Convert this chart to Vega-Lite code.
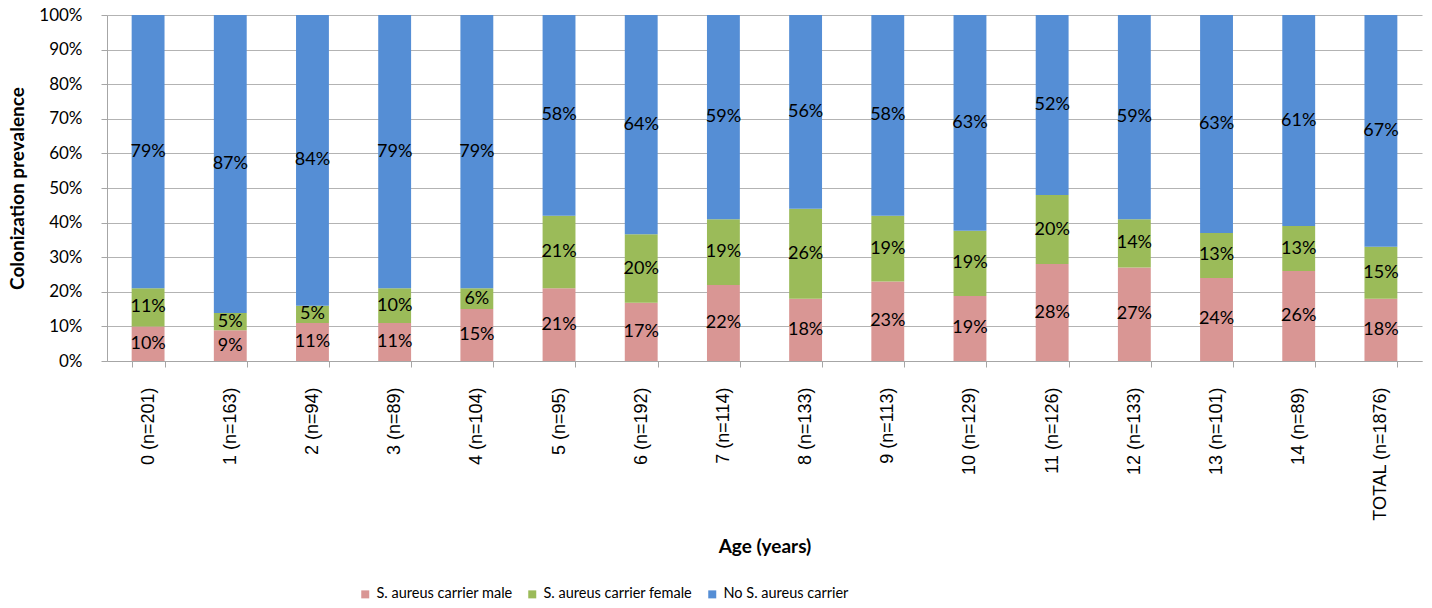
{
  "$schema": "https://vega.github.io/schema/vega-lite/v6.json",
  "width": 1315,
  "height": 346,
  "autosize": {"type": "none"},
  "padding": {"left": 107, "top": 15, "right": 10, "bottom": 247},
  "background": "white",
  "config": {
    "view": {"stroke": null},
    "font": "Lato"
  },
  "data": {
    "values": [
      {"age": "0 (n=201)", "series": "S. aureus carrier male", "k": 1, "v": 0.10},
      {"age": "0 (n=201)", "series": "S. aureus carrier female", "k": 2, "v": 0.11},
      {"age": "0 (n=201)", "series": "No S. aureus carrier", "k": 3, "v": 0.79},
      {"age": "1 (n=163)", "series": "S. aureus carrier male", "k": 1, "v": 0.09},
      {"age": "1 (n=163)", "series": "S. aureus carrier female", "k": 2, "v": 0.05},
      {"age": "1 (n=163)", "series": "No S. aureus carrier", "k": 3, "v": 0.87},
      {"age": "2 (n=94)", "series": "S. aureus carrier male", "k": 1, "v": 0.11},
      {"age": "2 (n=94)", "series": "S. aureus carrier female", "k": 2, "v": 0.05},
      {"age": "2 (n=94)", "series": "No S. aureus carrier", "k": 3, "v": 0.84},
      {"age": "3 (n=89)", "series": "S. aureus carrier male", "k": 1, "v": 0.11},
      {"age": "3 (n=89)", "series": "S. aureus carrier female", "k": 2, "v": 0.10},
      {"age": "3 (n=89)", "series": "No S. aureus carrier", "k": 3, "v": 0.79},
      {"age": "4 (n=104)", "series": "S. aureus carrier male", "k": 1, "v": 0.15},
      {"age": "4 (n=104)", "series": "S. aureus carrier female", "k": 2, "v": 0.06},
      {"age": "4 (n=104)", "series": "No S. aureus carrier", "k": 3, "v": 0.79},
      {"age": "5 (n=95)", "series": "S. aureus carrier male", "k": 1, "v": 0.21},
      {"age": "5 (n=95)", "series": "S. aureus carrier female", "k": 2, "v": 0.21},
      {"age": "5 (n=95)", "series": "No S. aureus carrier", "k": 3, "v": 0.58},
      {"age": "6 (n=192)", "series": "S. aureus carrier male", "k": 1, "v": 0.17},
      {"age": "6 (n=192)", "series": "S. aureus carrier female", "k": 2, "v": 0.20},
      {"age": "6 (n=192)", "series": "No S. aureus carrier", "k": 3, "v": 0.64},
      {"age": "7 (n=114)", "series": "S. aureus carrier male", "k": 1, "v": 0.22},
      {"age": "7 (n=114)", "series": "S. aureus carrier female", "k": 2, "v": 0.19},
      {"age": "7 (n=114)", "series": "No S. aureus carrier", "k": 3, "v": 0.59},
      {"age": "8 (n=133)", "series": "S. aureus carrier male", "k": 1, "v": 0.18},
      {"age": "8 (n=133)", "series": "S. aureus carrier female", "k": 2, "v": 0.26},
      {"age": "8 (n=133)", "series": "No S. aureus carrier", "k": 3, "v": 0.56},
      {"age": "9 (n=113)", "series": "S. aureus carrier male", "k": 1, "v": 0.23},
      {"age": "9 (n=113)", "series": "S. aureus carrier female", "k": 2, "v": 0.19},
      {"age": "9 (n=113)", "series": "No S. aureus carrier", "k": 3, "v": 0.58},
      {"age": "10 (n=129)", "series": "S. aureus carrier male", "k": 1, "v": 0.19},
      {"age": "10 (n=129)", "series": "S. aureus carrier female", "k": 2, "v": 0.19},
      {"age": "10 (n=129)", "series": "No S. aureus carrier", "k": 3, "v": 0.63},
      {"age": "11 (n=126)", "series": "S. aureus carrier male", "k": 1, "v": 0.28},
      {"age": "11 (n=126)", "series": "S. aureus carrier female", "k": 2, "v": 0.20},
      {"age": "11 (n=126)", "series": "No S. aureus carrier", "k": 3, "v": 0.52},
      {"age": "12 (n=133)", "series": "S. aureus carrier male", "k": 1, "v": 0.27},
      {"age": "12 (n=133)", "series": "S. aureus carrier female", "k": 2, "v": 0.14},
      {"age": "12 (n=133)", "series": "No S. aureus carrier", "k": 3, "v": 0.59},
      {"age": "13 (n=101)", "series": "S. aureus carrier male", "k": 1, "v": 0.24},
      {"age": "13 (n=101)", "series": "S. aureus carrier female", "k": 2, "v": 0.13},
      {"age": "13 (n=101)", "series": "No S. aureus carrier", "k": 3, "v": 0.63},
      {"age": "14 (n=89)", "series": "S. aureus carrier male", "k": 1, "v": 0.26},
      {"age": "14 (n=89)", "series": "S. aureus carrier female", "k": 2, "v": 0.13},
      {"age": "14 (n=89)", "series": "No S. aureus carrier", "k": 3, "v": 0.61},
      {"age": "TOTAL (n=1876)", "series": "S. aureus carrier male", "k": 1, "v": 0.18},
      {"age": "TOTAL (n=1876)", "series": "S. aureus carrier female", "k": 2, "v": 0.15},
      {"age": "TOTAL (n=1876)", "series": "No S. aureus carrier", "k": 3, "v": 0.67}
    ]
  },
  "transform": [
    {"stack": "v", "groupby": ["age"], "sort": [{"field": "k", "order": "ascending"}], "offset": "normalize", "as": ["y0", "y1"]},
    {"calculate": "(datum.y0 + datum.y1) / 2", "as": "ymid"}
  ],
  "encoding": {
    "x": {
      "field": "age",
      "type": "nominal",
      "sort": null,
      "scale": {"paddingInner": 0.6, "paddingOuter": 0.3},
      "axis": {
        "title": "Age (years)",
        "titleFont": "Lato",
        "titleFontSize": 19,
        "titleFontWeight": "bold",
        "titleColor": "black",
        "titleY": 185,
        "titleBaseline": "middle",
        "labelAngle": -90,
        "labelAlign": "right",
        "labelBaseline": "middle",
        "labelFont": "Liberation Sans",
        "labelFontSize": 18,
        "labelColor": "black",
        "labelPadding": 20,
        "labelLimit": 300,
        "tickBand": "extent",
        "tickSize": 6,
        "tickColor": "#A6A6A6",
        "domainColor": "#A6A6A6",
        "grid": false
      }
    }
  },
  "layer": [
    {
      "mark": {"type": "bar"},
      "encoding": {
        "y": {
          "field": "y0",
          "type": "quantitative",
          "scale": {"domain": [0, 1]},
          "axis": {
            "title": "Colonization prevalence",
            "titleFont": "Lato",
            "titleFontSize": 19,
            "titleFontWeight": "bold",
            "titleColor": "black",
            "titleX": -90,
            "titleBaseline": "middle",
            "format": ".0%",
            "values": [0, 0.1, 0.2, 0.3, 0.4, 0.5, 0.6, 0.7, 0.8, 0.9, 1],
            "labelOverlap": false,
            "labelFont": "Lato",
            "labelFontSize": 17,
            "labelColor": "black",
            "labelPadding": 19,
            "tickSize": 6,
            "tickColor": "#A6A6A6",
            "domainColor": "#A6A6A6",
            "gridColor": "#B3B3B3",
            "grid": true
          }
        },
        "y2": {"field": "y1"},
        "color": {
          "field": "series",
          "type": "nominal",
          "scale": {
            "domain": ["S. aureus carrier male", "S. aureus carrier female", "No S. aureus carrier"],
            "range": ["#D99694", "#9BBB59", "#558ED5"]
          },
          "legend": {
            "title": null,
            "orient": "none",
            "direction": "horizontal",
            "legendX": 251,
            "legendY": 572,
            "symbolType": "square",
            "symbolSize": 64,
            "symbolStrokeWidth": 0,
            "labelFont": "Lato",
            "labelFontSize": 14.5,
            "labelColor": "black",
            "labelOffset": 4,
            "labelLimit": 300,
            "columnPadding": 12
          }
        }
      }
    },
    {
      "mark": {"type": "text", "fontSize": 18, "color": "black", "font": "Lato"},
      "encoding": {
        "y": {
          "field": "ymid",
          "type": "quantitative",
          "axis": {
            "title": "Colonization prevalence",
            "titleFont": "Lato",
            "titleFontSize": 19,
            "titleFontWeight": "bold",
            "titleColor": "black",
            "titleX": -90,
            "titleBaseline": "middle",
            "format": ".0%",
            "values": [0, 0.1, 0.2, 0.3, 0.4, 0.5, 0.6, 0.7, 0.8, 0.9, 1],
            "labelOverlap": false,
            "labelFont": "Lato",
            "labelFontSize": 17,
            "labelColor": "black",
            "labelPadding": 19,
            "tickSize": 6,
            "tickColor": "#A6A6A6",
            "domainColor": "#A6A6A6",
            "gridColor": "#B3B3B3",
            "grid": true
          }
        },
        "text": {"field": "v", "type": "quantitative", "format": ".0%"}
      }
    }
  ]
}
